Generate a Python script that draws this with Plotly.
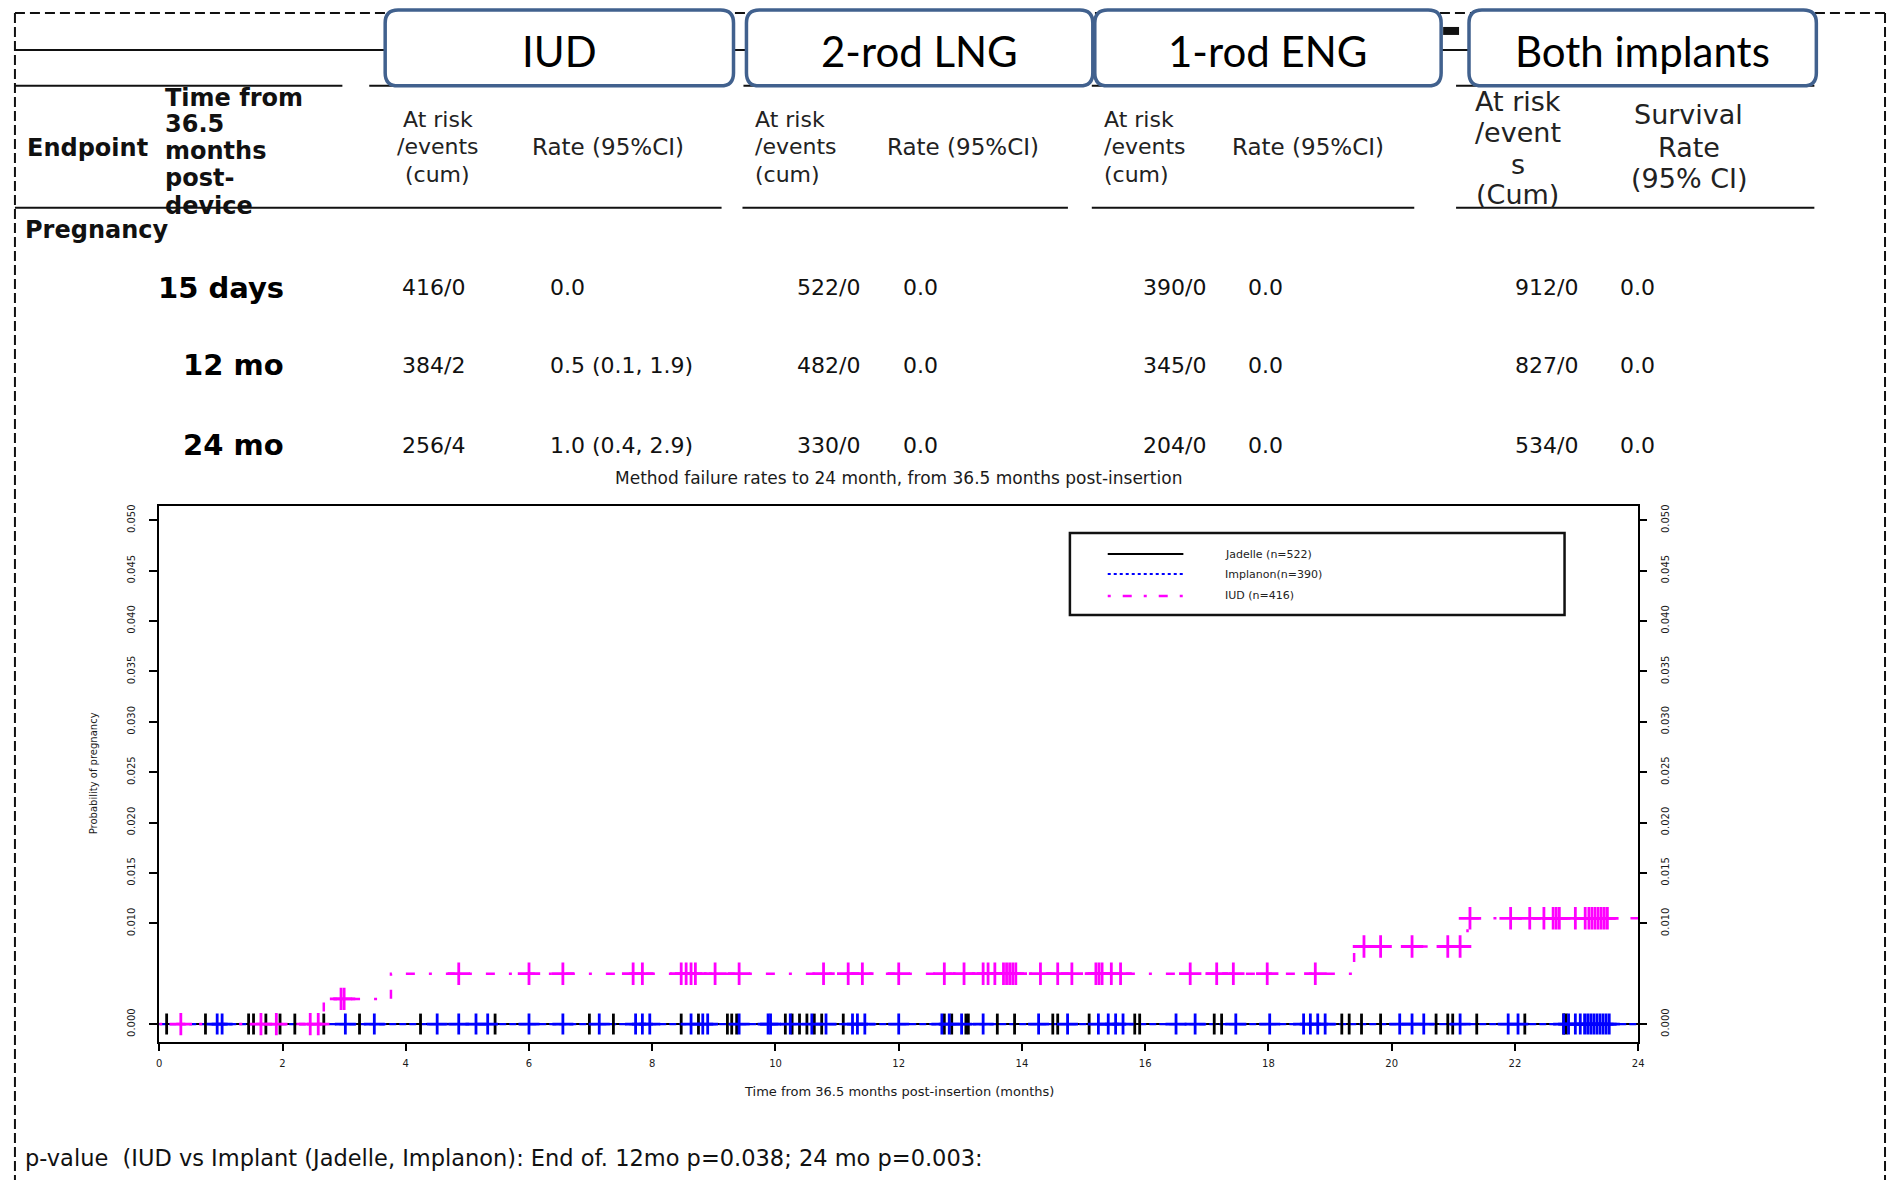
import numpy as np
import plotly.graph_objects as go

W, H = 1895, 1180

# ---------------- table data ----------------
group_headers = ["IUD", "2-rod LNG", "1-rod ENG", "Both implants"]
time_points = ["15 days", "12 mo", "24 mo"]
iud_at_risk = ["416/0", "384/2", "256/4"]
iud_rate = ["0.0", "0.5 (0.1, 1.9)", "1.0 (0.4, 2.9)"]
lng_at_risk = ["522/0", "482/0", "330/0"]
lng_rate = ["0.0", "0.0", "0.0"]
eng_at_risk = ["390/0", "345/0", "204/0"]
eng_rate = ["0.0", "0.0", "0.0"]
both_at_risk = ["912/0", "827/0", "534/0"]
both_rate = ["0.0", "0.0", "0.0"]

# ---------------- Kaplan-Meier plot data ----------------
iud_event_months = [2.67, 3.76, 19.39, 21.23]
iud_cum_prob = [0.0025, 0.0050, 0.0077, 0.0105]
follow_up_end = 24.0

iud_censor_months = [
    0.35, 1.65, 1.90, 2.45, 2.58,
    2.95, 3.00,
    4.86, 6.00, 6.55, 7.69, 7.84, 8.47, 8.55, 8.63, 8.70, 9.02, 9.41, 10.78, 11.18, 11.41,
    12.00, 12.74, 13.06, 13.37, 13.45, 13.56, 13.70, 13.75, 13.80, 13.85, 13.90, 14.30,
    14.58, 14.81, 15.20, 15.25, 15.30, 15.45, 15.60, 16.73, 17.16, 17.43, 17.98, 18.76,
    19.55, 19.82, 20.33, 20.91, 21.11,
    21.27, 21.93, 22.24, 22.47, 22.62, 22.67, 22.72, 22.98, 23.14, 23.20, 23.25, 23.30,
    23.35, 23.40, 23.45, 23.50,
]
jadelle_censor_months = [
    0.12, 0.75, 1.45, 1.53, 1.73, 1.96, 2.20, 2.67, 3.25, 4.24, 5.45, 6.98, 7.37, 8.47,
    8.75, 9.22, 9.29, 9.37, 10.16, 10.27, 10.39, 10.51, 10.63, 10.75, 11.10,
    12.74, 12.86, 13.09, 13.13, 13.60, 13.88, 14.50, 14.58, 15.09, 15.83, 15.91, 17.12,
    17.24, 19.19, 19.31, 19.51, 19.82, 20.72, 20.91, 20.99, 21.38, 22.16, 22.79, 22.83,
]
implanon_censor_months = [
    0.94, 1.02, 3.02, 3.49, 4.51, 4.86, 5.14, 5.33, 6.00, 6.55, 7.14, 7.73, 7.84, 7.96,
    8.63, 8.82, 8.90, 9.41, 9.88, 9.92, 10.24, 10.59, 10.82, 11.25, 11.33, 11.45, 12.00,
    12.70, 12.82, 13.02, 13.37, 14.27, 14.74, 15.24, 15.40, 15.52, 15.64, 16.50, 16.81,
    17.47, 18.02, 18.57, 18.68, 18.80, 18.92, 20.13, 20.33, 20.52, 21.11, 21.89, 22.05,
    22.79, 22.87, 22.98, 23.06, 23.13, 23.18, 23.23, 23.28, 23.33, 23.38, 23.43, 23.48, 23.53,
]

y_tick_vals = [0.000, 0.010, 0.015, 0.020, 0.025, 0.030, 0.035, 0.040, 0.045, 0.050]
y_tick_text = ["0.000", "0.010", "0.015", "0.020", "0.025", "0.030", "0.035", "0.040", "0.045", "0.050"]
x_tick_vals = [0, 2, 4, 6, 8, 10, 12, 14, 16, 18, 20, 22, 24]
legend_labels = ["Jadelle (n=522)", "Implanon(n=390)", "IUD (n=416)"]

plot_title = "Method failure rates to 24 month, from 36.5 months post-insertion"
x_title = "Time from 36.5 months post-insertion (months)"
y_title = "Probability of pregnancy"
p_value_note = "p-value  (IUD vs Implant (Jadelle, Implanon): End of. 12mo p=0.038; 24 mo p=0.003:"

# ---------------- helpers ----------------
def px(x):
    return x / W

def py(y):
    return 1 - y / H

annotations = []

def txt(x, y, s, size, family="DejaVu Sans", bold=False, anchor="left", angle=0, color="#111111"):
    annotations.append(dict(
        x=px(x), y=py(y), xref="paper", yref="paper", text=("<b>%s</b>" % s) if bold else s,
        showarrow=False, xanchor=anchor, yanchor="middle", textangle=angle,
        font=dict(family=family, size=size, color=color),
    ))

shapes = []

def hline(x0, x1, y, width=2, color="#111111", dash="solid"):
    shapes.append(dict(type="line", xref="paper", yref="paper", x0=px(x0), x1=px(x1), y0=py(y), y1=py(y),
                       line=dict(color=color, width=width, dash=dash)))

def vline(x, y0, y1, width=2, color="#111111", dash="solid"):
    shapes.append(dict(type="line", xref="paper", yref="paper", x0=px(x), x1=px(x), y0=py(y0), y1=py(y1),
                       line=dict(color=color, width=width, dash=dash)))

def rbox(x0, y0, x1, y1, r=13, color="#41618e", width=3.5):
    rx, ry = r / W, r / H
    X0, X1 = px(x0), px(x1)
    T, B = py(y0), py(y1)
    path = (f"M {X0+rx},{T} L {X1-rx},{T} Q {X1},{T} {X1},{T-ry} L {X1},{B+ry} Q {X1},{B} {X1-rx},{B} "
            f"L {X0+rx},{B} Q {X0},{B} {X0},{B+ry} L {X0},{T-ry} Q {X0},{T} {X0+rx},{T} Z")
    shapes.append(dict(type="path", xref="paper", yref="paper", path=path,
                       line=dict(color=color, width=width), fillcolor="white"))

# ---------------- table frame ----------------
hline(12, W, 11, width=2, dash="10px,5px")
vline(12, 11, H, width=2, dash="10px,4px")
vline(1891, 11, H, width=2, dash="10px,4px")
hline(12, 1822, 48)
for a, b in [(12, 341), (368, 722), (744, 1070), (1094, 1418), (1460, 1820)]:
    hline(a, b, 84)
for a, b in [(12, 722), (743, 1070), (1094, 1418), (1460, 1820)]:
    hline(a, b, 206)
shapes.append(dict(type="rect", xref="paper", yref="paper", x0=px(1447), x1=px(1463), y0=py(33), y1=py(25),
                   line=dict(width=0), fillcolor="#111111"))

box_x = [(384, 734), (747, 1095), (1097, 1445), (1473, 1822)]
for (a, b), name in zip(box_x, group_headers):
    rbox(a, 8, b, 84)
    txt((a + b) / 2, 49, name, 42, family="Lato", anchor="center", color="#000000")

# header texts
txt(22, 146, "Endpoint", 24, bold=True)
for yy, s in zip([96, 122, 149, 176, 204], ["Time from", "36.5", "months", "post-", "device"]):
    txt(161, yy, s, 24, bold=True)
for yy, s in zip([118, 145, 173], ["At risk", "/events", "(cum)"]):
    txt(437, yy, s, 22, anchor="center", color="#222222")
    txt(754, yy, s, 22, color="#222222")
    txt(1104, yy, s, 22, color="#222222")
for xx in [530, 886, 1233]:
    txt(xx, 145, "Rate (95%CI)", 23, color="#222222")
for yy, s in zip([100, 131, 163, 193], ["At risk", "/event", "s", "(Cum)"]):
    txt(1522, yy, s, 27, anchor="center", color="#222222")
for yy, s in zip([113, 146, 177], ["Survival", "Rate", "(95% CI)"]):
    txt(1694, yy, s, 27, anchor="center", color="#222222")

txt(20, 228, "Pregnancy", 24, bold=True)

row_y = [286, 364, 444]
for i, yy in enumerate(row_y):
    txt(284, yy, time_points[i], 29, bold=True, anchor="right", color="#000000")
    txt(399, yy, iud_at_risk[i], 22)
    txt(548, yy, iud_rate[i], 22)
    txt(863, yy, lng_at_risk[i], 22, anchor="right")
    txt(902, yy, lng_rate[i], 22)
    txt(1211, yy, eng_at_risk[i], 22, anchor="right")
    txt(1249, yy, eng_rate[i], 22)
    txt(1585, yy, both_at_risk[i], 22, anchor="right")
    txt(1623, yy, both_rate[i], 22)

# chart texts
txt(900, 477, plot_title, 17, anchor="center", color="#1a1a1a")
txt(900, 1091, x_title, 13, anchor="center", color="#1a1a1a")
txt(91, 773, y_title, 10, anchor="center", angle=-90, color="#1a1a1a")
txt(20, 1158, p_value_note, 22.5, color="#111111")

# legend (manual box)
shapes.append(dict(type="rect", xref="paper", yref="paper", x0=px(1072), x1=px(1569), y0=py(614), y1=py(532),
                   line=dict(color="#111111", width=2.5), fillcolor="white"))
leg_styles = [("#000000", "solid", 2), ("#0000ff", "dot", 2), ("#ff00ff", "3px,12px,9px,12px", 2.5)]
for (col, dash, lw), lab, yy in zip(leg_styles, legend_labels, [553, 573, 595]):
    shapes.append(dict(type="line", xref="paper", yref="paper", x0=px(1110), x1=px(1186), y0=py(yy), y1=py(yy),
                       line=dict(color=col, width=lw, dash=dash)))
    txt(1226, yy, lab, 11, color="#222222")

# ---------------- plot traces ----------------
ev = np.array(iud_event_months)
lv = np.array(iud_cum_prob)

def iud_level(t):
    idx = np.searchsorted(ev, np.asarray(t), side="right")
    return np.where(idx == 0, 0.0, lv[np.maximum(idx - 1, 0)])

fig = go.Figure()
fig.add_trace(go.Scatter(x=[0, follow_up_end], y=[0, 0], mode="lines",
                         line=dict(color="#000000", width=2), showlegend=False, hoverinfo="skip"))
fig.add_trace(go.Scatter(x=[0, follow_up_end], y=[0, 0], mode="lines",
                         line=dict(color="#0000ff", width=2.2, dash="7px,3px"), showlegend=False, hoverinfo="skip"))
iud_x = [0.0] + list(iud_event_months) + [follow_up_end]
iud_y = [0.0] + list(iud_cum_prob) + [iud_cum_prob[-1]]
fig.add_trace(go.Scatter(x=iud_x, y=iud_y, mode="lines", line_shape="hv",
                         line=dict(color="#ff00ff", width=2.5, dash="3px,14px,9px,14px"),
                         showlegend=False, hoverinfo="skip"))

fig.add_trace(go.Scatter(x=jadelle_censor_months, y=[0.0] * len(jadelle_censor_months), mode="markers",
                         marker=dict(symbol="line-ns", size=15, line=dict(color="#000000", width=2.8)),
                         showlegend=False))
fig.add_trace(go.Scatter(x=implanon_censor_months, y=[0.0] * len(implanon_censor_months), mode="markers",
                         marker=dict(symbol="cross-thin", size=15, line=dict(color="#0000ff", width=2.8)),
                         showlegend=False))
fig.add_trace(go.Scatter(x=iud_censor_months, y=iud_level(iud_censor_months), mode="markers",
                         marker=dict(symbol="cross-thin", size=16, line=dict(color="#ff00ff", width=2.8)),
                         showlegend=False))
# anchor for right axis
fig.add_trace(go.Scatter(x=[0], y=[0], yaxis="y2", mode="markers", marker=dict(opacity=0),
                         showlegend=False, hoverinfo="skip"))

y_range = [-0.0018, 0.0514]
tickfont = dict(family="DejaVu Sans", size=10, color="#1a1a1a")
fig.update_layout(
    width=W, height=H, autosize=False,
    margin=dict(l=0, r=0, t=0, b=0),
    paper_bgcolor="white", plot_bgcolor="white",
    showlegend=False,
    xaxis=dict(domain=[px(157), px(1643)], range=[0, 24], showline=True, linecolor="#000000", linewidth=2,
               mirror=True, ticks="outside", ticklen=7, tickwidth=2, tickcolor="#000000",
               tickvals=x_tick_vals, ticktext=[str(v) for v in x_tick_vals], tickfont=tickfont,
               showgrid=False, zeroline=False, ticklabelstandoff=4),
    yaxis=dict(domain=[1 - 1042 / H, 1 - 505 / H], range=y_range, showline=True, linecolor="#000000",
               linewidth=2, mirror=True, ticks="outside", ticklen=8, tickwidth=2, tickcolor="#000000",
               tickvals=y_tick_vals, ticktext=y_tick_text, tickangle=-90, tickfont=tickfont,
               showgrid=False, zeroline=False, ticklabelstandoff=10),
    yaxis2=dict(overlaying="y", side="right", anchor="x", range=y_range, showline=False,
                ticks="outside", ticklen=8, tickwidth=2, tickcolor="#000000",
                tickvals=y_tick_vals, ticktext=y_tick_text, tickangle=-90, tickfont=tickfont,
                showgrid=False, zeroline=False, ticklabelstandoff=10),
    shapes=shapes,
    annotations=annotations,
)

fig.write_html("out.html", config={"displayModeBar": False},
               post_script="document.body.style.margin='0px';")
